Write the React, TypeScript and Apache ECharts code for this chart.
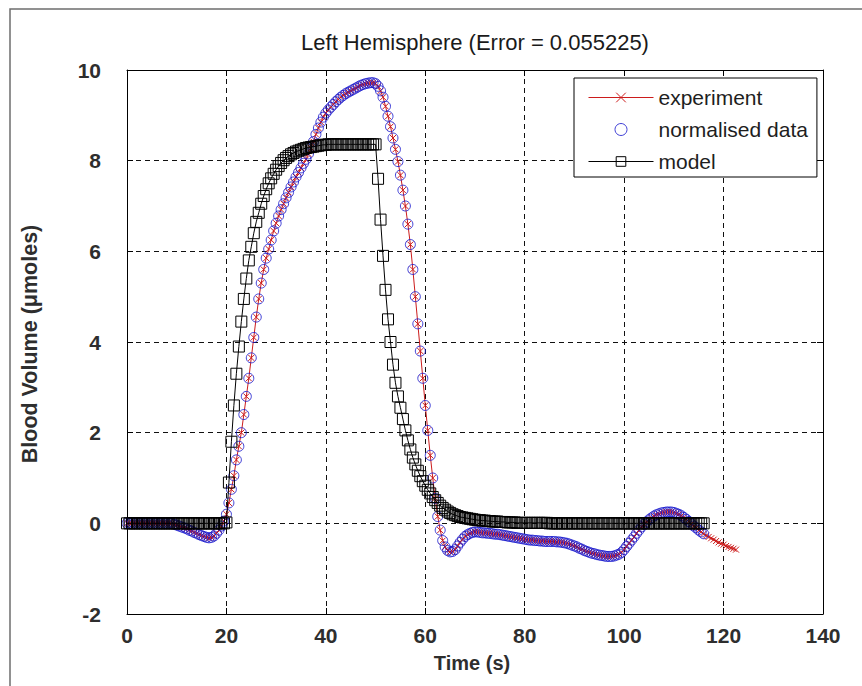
import React, { useEffect, useRef } from "react";
import * as echarts from "echarts";

// sampling interval of the recordings (s)
const TIME_STEP = 0.5;

// experiment (red line, x markers), t = 0 .. 122.5 s every 0.5 s
const experiment = [
  0, 0, 0, 0, 0, 0, 0, 0, 0, 0,
  0, 0, 0, 0, 0, 0, 0, 0, 0, -0.02,
  -0.04, -0.06, -0.08, -0.1, -0.12, -0.15, -0.17, -0.2, -0.22, -0.25,
  -0.27, -0.29, -0.31, -0.32, -0.31, -0.28, -0.22, -0.15, -0.06, 0.05,
  0.2, 0.45, 0.75, 1.05, 1.4, 1.7, 2.0, 2.4, 2.8, 3.2,
  3.65, 4.1, 4.55, 4.95, 5.3, 5.6, 5.85, 6.05, 6.25, 6.45,
  6.62, 6.78, 6.92, 7.05, 7.18, 7.3, 7.42, 7.53, 7.64, 7.74,
  7.84, 7.94, 8.03, 8.15, 8.28, 8.42, 8.58, 8.72, 8.85, 8.96,
  9.05, 9.12, 9.18, 9.24, 9.3, 9.35, 9.4, 9.44, 9.48, 9.51,
  9.54, 9.57, 9.6, 9.63, 9.66, 9.68, 9.7, 9.71, 9.72, 9.72,
  9.7, 9.64, 9.54, 9.4, 9.2, 8.98, 8.75, 8.5, 8.25, 7.98,
  7.68, 7.35, 7.0, 6.6, 6.15, 5.6, 5.0, 4.4, 3.8, 3.2,
  2.6, 2.05, 1.5, 1.0, 0.55, 0.15, -0.15, -0.38, -0.52, -0.6,
  -0.63, -0.62, -0.58, -0.5, -0.42, -0.35, -0.29, -0.25, -0.22, -0.2,
  -0.19, -0.19, -0.2, -0.21, -0.21, -0.22, -0.22, -0.23, -0.24, -0.24,
  -0.25, -0.26, -0.27, -0.28, -0.29, -0.3, -0.31, -0.32, -0.33, -0.34,
  -0.35, -0.36, -0.37, -0.37, -0.38, -0.38, -0.39, -0.39, -0.4, -0.4,
  -0.4, -0.4, -0.4, -0.41, -0.41, -0.42, -0.43, -0.44, -0.46, -0.48,
  -0.5, -0.52, -0.55, -0.57, -0.6, -0.62, -0.64, -0.66, -0.67, -0.69,
  -0.7, -0.71, -0.72, -0.73, -0.73, -0.73, -0.72, -0.7, -0.68, -0.64,
  -0.58, -0.51, -0.44, -0.37, -0.3, -0.22, -0.15, -0.08, -0.02, 0.03,
  0.08, 0.12, 0.16, 0.19, 0.21, 0.23, 0.24, 0.25, 0.25, 0.25,
  0.24, 0.22, 0.2, 0.17, 0.13, 0.09, 0.04, -0.01, -0.06, -0.1,
  -0.15, -0.19, -0.23, -0.27, -0.3, -0.33, -0.36, -0.39, -0.42, -0.45,
  -0.47, -0.5, -0.52, -0.54, -0.56, -0.58,
];

// normalised data (blue circles): the same samples, t = 0 .. 116 s
const normalisedCount = 233;
const normalisedData = experiment.slice(0, normalisedCount);

// model (black line, square markers), t = 0 .. 116 s every 0.5 s
const model = [
  0, 0, 0, 0, 0, 0, 0, 0, 0, 0,
  0, 0, 0, 0, 0, 0, 0, 0, 0, 0,
  0, 0, 0, 0, 0, 0, 0, 0, 0, 0,
  0, 0, 0, 0, 0, 0, 0, 0, 0, 0,
  0.02, 0.9, 1.8, 2.6, 3.3, 3.9, 4.45, 4.95, 5.4, 5.8,
  6.1, 6.4, 6.65, 6.85, 7.05, 7.22, 7.37, 7.5, 7.61, 7.71,
  7.8, 7.88, 7.95, 8.01, 8.06, 8.1, 8.14, 8.17, 8.2, 8.22,
  8.24, 8.26, 8.28, 8.29, 8.3, 8.31, 8.32, 8.33, 8.34, 8.35,
  8.35, 8.36, 8.36, 8.36, 8.36, 8.36, 8.36, 8.36, 8.36, 8.36,
  8.36, 8.36, 8.36, 8.36, 8.36, 8.36, 8.36, 8.36, 8.36, 8.36,
  8.36, 7.6, 6.7, 5.9, 5.15, 4.5, 4.0, 3.5, 3.1, 2.8,
  2.55, 2.3, 2.05, 1.83, 1.63, 1.45, 1.3, 1.16, 1.04, 0.93,
  0.83, 0.74, 0.66, 0.58, 0.51, 0.45, 0.39, 0.34, 0.3, 0.26,
  0.23, 0.2, 0.18, 0.16, 0.14, 0.13, 0.12, 0.11, 0.1, 0.09,
  0.08, 0.07, 0.07, 0.06, 0.06, 0.05, 0.05, 0.04, 0.04, 0.04,
  0.03, 0.03, 0.03, 0.02, 0.02, 0.02, 0.02, 0.01, 0.01, 0.01,
  0.01, 0.01, 0.01, 0.01, 0.01, 0.01, 0.01, 0.01, 0.01, 0.01,
  0, 0, 0, 0, 0, 0, 0, 0, 0, 0,
  0, 0, 0, 0, 0, 0, 0, 0, 0, 0,
  0, 0, 0, 0, 0, 0, 0, 0, 0, 0,
  0, 0, 0, 0, 0, 0, 0, 0, 0, 0,
  0, 0, 0, 0, 0, 0, 0, 0, 0, 0,
  0, 0, 0, 0, 0, 0, 0, 0, 0, 0,
  0, 0, 0,
];

const seriesNames = ["experiment", "normalised data", "model"];
const titleText = "Left Hemisphere (Error = 0.055225)";
const xLabelText = "Time (s)";
const yLabelText = "Blood Volume (\u03bcmoles)";
const xRange = { min: 0, max: 140, interval: 20 };
const yRange = { min: -2, max: 10, interval: 2 };

const FONT = "'Liberation Sans', Arial, Helvetica, sans-serif";
const RED = "#cc1c1c";
const BLUE = "#1414cc";
const X_SYMBOL = "path://M0,0L10,10M10,0L0,10";

const toPairs = (vals: number[]) => vals.map((v, i) => [i * TIME_STEP, v]);

export default function App() {
  const ref = useRef<HTMLDivElement>(null);
  useEffect(() => {
    if (!ref.current) return;
    const chart = echarts.init(ref.current, null, { renderer: "svg" });
    const grid = { left: 127, top: 70, right: 39, bottom: 72 };
    const tickLabel = {
      fontFamily: FONT,
      fontSize: 21,
      fontWeight: "bold",
      color: "#2e2e2e",
    };
    const split = { show: true, lineStyle: { color: "#111", type: [5, 4], width: 1 } };
    const axisLine = { show: true, onZero: false, lineStyle: { color: "#000", width: 1 } };
    const tick = { show: true, inside: true, length: 6, lineStyle: { color: "#000" } };
    chart.setOption({
      animation: false,
      backgroundColor: "#fff",
      grid,
      xAxis: [
        {
          type: "value",
          ...xRange,
          position: "bottom",
          axisLine,
          axisTick: tick,
          splitLine: split,
          axisLabel: { ...tickLabel, margin: 11 },
        },
        {
          type: "value",
          ...xRange,
          position: "top",
          axisLine,
          axisTick: tick,
          splitLine: { show: false },
          axisLabel: { show: false },
        },
      ],
      yAxis: [
        {
          type: "value",
          ...yRange,
          position: "left",
          axisLine,
          axisTick: tick,
          splitLine: split,
          axisLabel: { ...tickLabel, margin: 26 },
        },
        {
          type: "value",
          ...yRange,
          position: "right",
          axisLine,
          axisTick: tick,
          splitLine: { show: false },
          axisLabel: { show: false },
        },
      ],
      legend: {
        orient: "vertical",
        left: 574,
        top: 78,
        padding: [9, 9, 5, 14],
        itemGap: 11,
        itemWidth: 65,
        itemHeight: 12,
        backgroundColor: "#fff",
        borderColor: "#000",
        borderWidth: 1,
        borderRadius: 0,
        selectedMode: false,
        textStyle: { fontFamily: FONT, fontSize: 21, color: "#1e1e1e", lineHeight: 21 },
        data: [
          {
            name: seriesNames[0],
            itemStyle: { color: "rgba(0,0,0,0)", borderColor: RED, borderWidth: 1 },
            lineStyle: { color: RED, width: 1 },
          },
          {
            name: seriesNames[1],
            itemStyle: { color: "rgba(0,0,0,0)", borderColor: BLUE, borderWidth: 1 },
          },
          {
            name: seriesNames[2],
            itemStyle: { color: "rgba(0,0,0,0)", borderColor: "#000", borderWidth: 1 },
            lineStyle: { color: "#000", width: 1 },
          },
        ],
      },
      series: [
        {
          name: seriesNames[0],
          type: "line",
          data: toPairs(experiment),
          symbol: X_SYMBOL,
          symbolSize: 6,
          showSymbol: true,
          lineStyle: { color: RED, width: 1 },
          itemStyle: { color: "rgba(0,0,0,0)", borderColor: RED, borderWidth: 1 },
          z: 2,
        },
        {
          name: seriesNames[1],
          type: "scatter",
          data: toPairs(normalisedData),
          symbol: "circle",
          symbolSize: 10,
          itemStyle: { color: "rgba(0,0,0,0)", borderColor: BLUE, borderWidth: 1 },
          z: 3,
        },
        {
          name: seriesNames[2],
          type: "line",
          data: toPairs(model),
          symbol: "rect",
          symbolSize: 11,
          showSymbol: true,
          lineStyle: { color: "#000", width: 1 },
          itemStyle: { color: "rgba(0,0,0,0)", borderColor: "#000", borderWidth: 1 },
          z: 4,
        },
      ],
      graphic: [
        {
          type: "rect",
          shape: { x: 10, y: 9, width: 900, height: 720 },
          style: { fill: "none", stroke: "#6e6e6e", lineWidth: 1.5 },
          silent: true,
          z: -10,
        },
        {
          type: "text",
          x: 475,
          y: 42,
          style: {
            text: titleText,
            fontFamily: FONT,
            fontSize: 22,
            fill: "#1a1a1a",
            textAlign: "center",
            textVerticalAlign: "middle",
          },
        },
        {
          type: "text",
          x: 472,
          y: 663,
          style: {
            text: xLabelText,
            fontFamily: FONT,
            fontSize: 20,
            fontWeight: "bold",
            fill: "#2e2e2e",
            textAlign: "center",
            textVerticalAlign: "middle",
          },
        },
        {
          type: "text",
          x: 30,
          y: 344,
          rotation: Math.PI / 2,
          style: {
            text: yLabelText,
            fontFamily: FONT,
            fontSize: 21.5,
            fontWeight: "bold",
            fill: "#2e2e2e",
            textAlign: "center",
            textVerticalAlign: "middle",
          },
        },
      ],
    });
    return () => chart.dispose();
  }, []);
  return (
    <div
      ref={ref}
      style={{ position: "absolute", left: 0, top: 0, width: 862, height: 686 }}
    />
  );
}
